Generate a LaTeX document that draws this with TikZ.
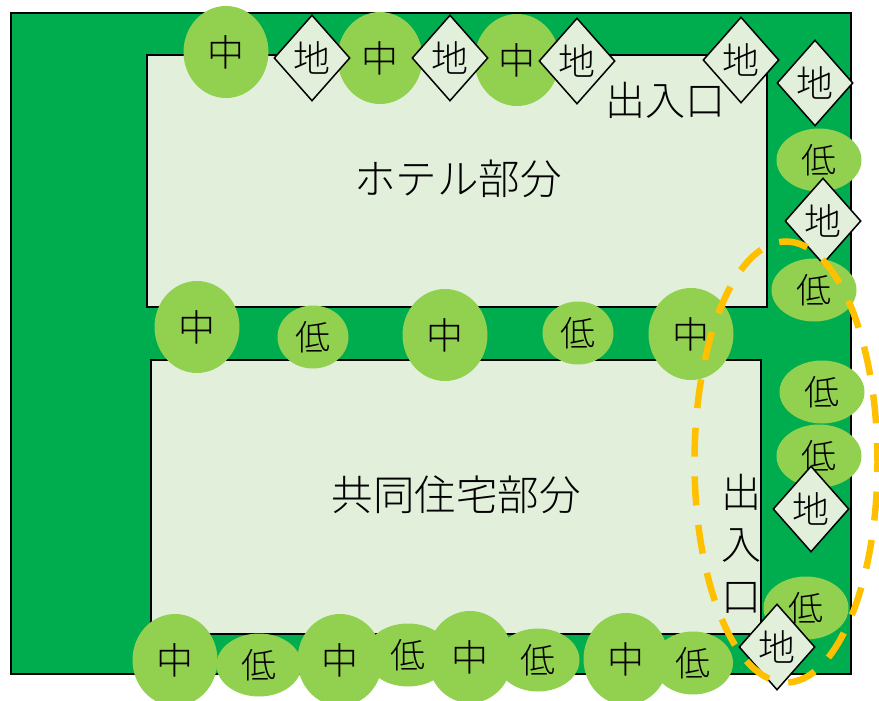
\documentclass[tikz,border=0pt]{standalone}
\usepackage{fontspec}
\newfontfamily\cjk{Noto Sans CJK JP Light}
\usetikzlibrary{shapes.geometric}
\definecolor{ground}{HTML}{00AD4E}
\definecolor{bldg}{HTML}{E2EFDA}
\definecolor{tree}{HTML}{92D050}
\definecolor{oran}{HTML}{FFC000}
\begin{document}
\begin{tikzpicture}[x=1pt,y=-1pt,
 bx/.style={draw=black,line width=1.5pt},
 lbl/.style={font=\cjk\fontsize{41.5}{46}\selectfont,inner sep=0pt,text=black},
 t/.style={fill=tree,draw=none,ellipse,inner sep=0pt,font=\cjk\fontsize{35}{38}\selectfont,text=black},
 mid/.style={t,minimum width=85pt,minimum height=92pt,font=\cjk\fontsize{37}{40}\selectfont},
 low/.style={t,minimum width=85pt,minimum height=63pt},
 gc/.style={diamond,aspect=1,draw=black,line width=1.5pt,fill=bldg,inner sep=0pt,minimum width=76pt,minimum height=86pt,font=\cjk\fontsize{37}{40}\selectfont,text=black}]
\useasboundingbox (0,0) rectangle (879,701);
\fill[white] (0,0) rectangle (879,701);
\draw[bx,fill=ground] (11,13) rectangle (851,674);
\draw[bx,fill=bldg] (147,55) rectangle (767,307);
\draw[bx,fill=bldg] (151,360) rectangle (761,634);
\node[lbl] (hotel) at (458,179) {ホテル部分};
\node[lbl] (res) at (456,495) {共同住宅部分};
\node[lbl,font=\cjk\fontsize{40}{44}\selectfont] (ent1) at (665,100) {出入口};
\node[lbl,font=\cjk\fontsize{40}{52}\selectfont,align=center,text width=44pt] (ent2) at (741,544) {出\\入\\口};
\node[mid] (m1) at (226,52) {中};
\node[mid] (m2) at (380,58) {中};
\node[mid] (m3) at (517,60) {中};
\node[mid] (m4) at (197,327) {中};
\node[mid] (m5) at (445,335) {中};
\node[mid] (m6) at (691,334) {中};
\node[mid] (m7) at (175,660) {中};
\node[mid] (m8) at (340,660) {中};
\node[mid] (m9) at (470,657) {中};
\node[mid] (m10) at (626,659) {中};
\node[low] (l1) at (819,160) {低};
\node[low] (l2) at (814,290) {低};
\node[low,minimum width=71pt] (l3) at (313,337) {低};
\node[low,minimum width=71pt] (l4) at (578,333) {低};
\node[low] (l5) at (822,392) {低};
\node[low] (l6) at (819,456) {低};
\node[low] (l7) at (806,608) {低};
\node[low] (l8) at (259,665) {低};
\node[low] (l9) at (408,655) {低};
\node[low,minimum width=83pt] (l10) at (538,660) {低};
\node[low,minimum width=80pt] (l11) at (693,663) {低};
\node[gc] (g1) at (312,58) {地};
\node[gc] (g2) at (450,58) {地};
\node[gc] (g3) at (577,61) {地};
\node[gc] (g4) at (741,60) {地};
\node[gc] (g5) at (815,83) {地};
\node[gc] (g6) at (823,221) {地};
\node[gc] (g7) at (811,509) {地};
\node[gc] (g8) at (777,647) {地};
\node[draw=oran,line width=6.5pt,dash pattern=on 29pt off 19.7pt,dash phase=10pt,ellipse,inner sep=0pt,minimum width=183pt,minimum height=441pt] (zone) at (786,462) {};
\end{tikzpicture}
\end{document}
